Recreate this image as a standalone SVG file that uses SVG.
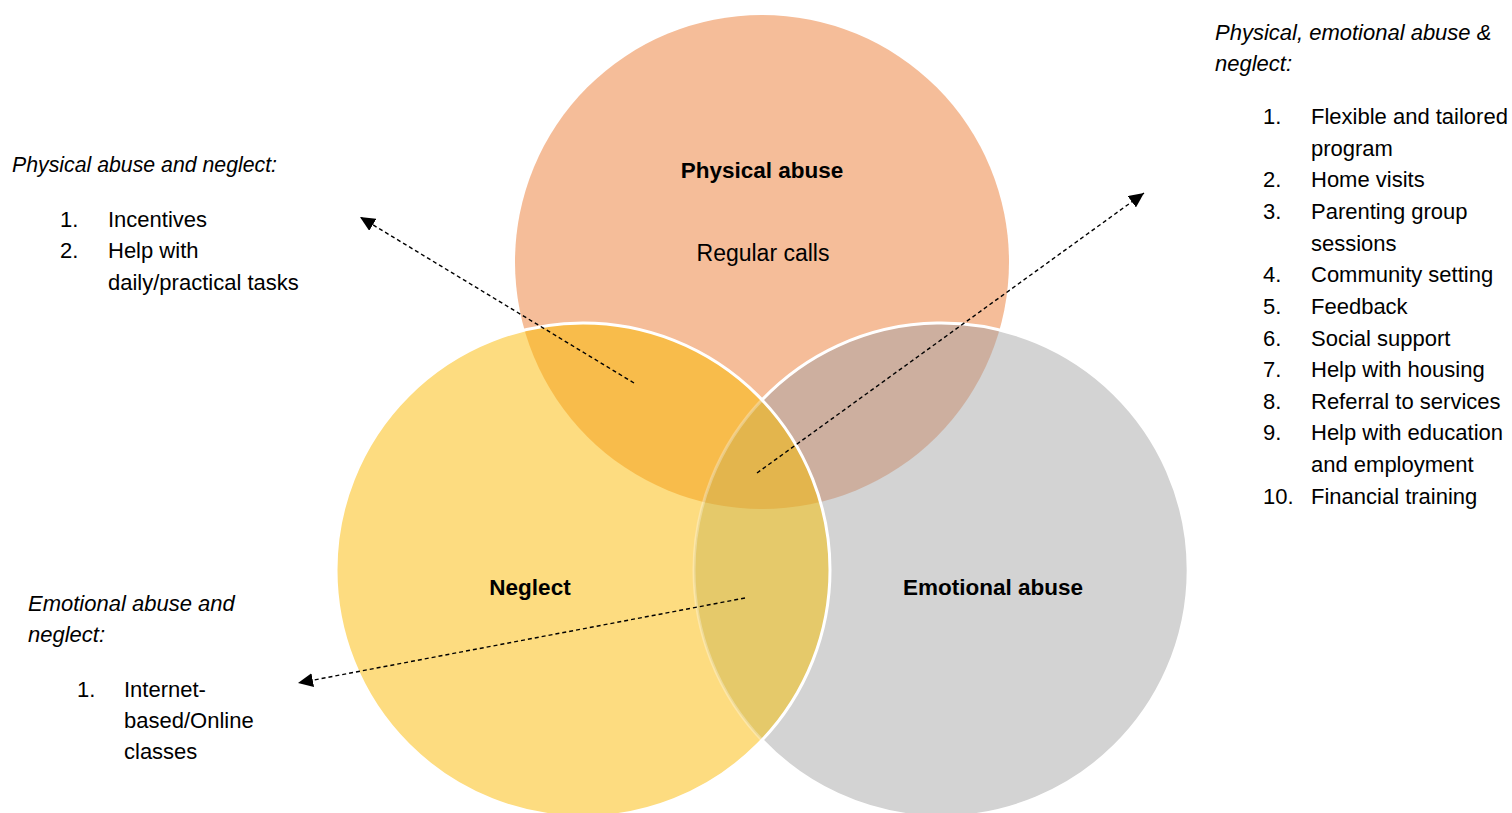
<svg xmlns="http://www.w3.org/2000/svg" width="1512" height="813" viewBox="0 0 1512 813">
  <style>
    text { font-family: "Liberation Sans", Arial, sans-serif; font-size: 22px; fill: #000; }
    .head { font-style: italic; }
    .title { font-weight: bold; text-anchor: middle; font-size: 22.5px; }
    .mid { text-anchor: middle; font-size: 23px; }
    .link { fill: none; stroke: #000; stroke-width: 1.4; stroke-dasharray: 4 3; marker-end: url(#arrow); }
  </style>
  <defs>
    <clipPath id="clipP"><circle cx="762" cy="262" r="247"/></clipPath>
    <clipPath id="clipN"><circle cx="583" cy="570" r="247"/></clipPath>
    <clipPath id="clipE"><circle cx="941" cy="570" r="247"/></clipPath>
    <marker id="arrow" markerUnits="userSpaceOnUse" markerWidth="16" markerHeight="14" refX="15" refY="7" orient="auto">
      <path d="M0,0 L15,7 L0,14 Z" fill="#000"/>
    </marker>
  </defs>

  <rect width="1512" height="813" fill="#fff"/>

  <!-- Venn circles -->
  <g id="physical-abuse">
    <circle cx="762" cy="262" r="247" fill="#F5BD99"/>
  </g>
  <g id="emotional-abuse">
    <circle cx="941" cy="570" r="247" fill="#D3D3D3"/>
  </g>
  <g id="neglect">
    <circle cx="583" cy="570" r="247" fill="#FDDC80"/>
  </g>

  <!-- overlap regions -->
  <g id="overlaps">
    <circle cx="583" cy="570" r="247" fill="#F8BC4B" clip-path="url(#clipP)"/>
    <circle cx="941" cy="570" r="247" fill="#CDAF9F" clip-path="url(#clipP)"/>
    <circle cx="941" cy="570" r="247" fill="#E5C96A" clip-path="url(#clipN)"/>
    <g clip-path="url(#clipN)">
      <circle cx="941" cy="570" r="247" fill="#E3B54D" clip-path="url(#clipP)"/>
    </g>
  </g>

  <!-- circle outlines -->
  <g id="outlines" fill="none" stroke="#fff" stroke-width="3">
    <circle cx="941" cy="570" r="247" stroke-opacity="0.3" clip-path="url(#clipN)"/>
    <path d="M762,400 A247,247 0 1 1 762,740"/>
    <circle cx="583" cy="570" r="247"/>
  </g>

  <!-- circle labels -->
  <text class="title" x="762" y="178">Physical abuse</text>
  <text class="mid" x="763" y="261">Regular calls</text>
  <text class="title" x="530" y="595">Neglect</text>
  <text class="title" x="993" y="595">Emotional abuse</text>

  <!-- connectors -->
  <g id="connectors">
    <line class="link" x1="634" y1="383" x2="360" y2="217"/>
    <line class="link" x1="757" y1="473" x2="1144" y2="193"/>
    <line class="link" x1="745" y1="598" x2="298" y2="683"/>
  </g>

  <!-- physical abuse and neglect list -->
  <g id="list-physical-neglect">
    <text class="head" x="12" y="172" textLength="265" lengthAdjust="spacingAndGlyphs">Physical abuse and neglect:</text>
    <text x="60" y="227">1.</text><text x="108" y="227">Incentives</text>
    <text x="60" y="258">2.</text><text x="108" y="258">Help with</text>
    <text x="108" y="290">daily/practical tasks</text>
  </g>

  <!-- all three list -->
  <g id="list-all">
    <text class="head" x="1215" y="40">Physical, emotional abuse &amp;</text>
    <text class="head" x="1215" y="71">neglect:</text>
    <text x="1263" y="124">1.</text><text x="1311" y="124">Flexible and tailored</text>
    <text x="1311" y="156">program</text>
    <text x="1263" y="187">2.</text><text x="1311" y="187">Home visits</text>
    <text x="1263" y="219">3.</text><text x="1311" y="219">Parenting group</text>
    <text x="1311" y="251">sessions</text>
    <text x="1263" y="282">4.</text><text x="1311" y="282">Community setting</text>
    <text x="1263" y="314">5.</text><text x="1311" y="314">Feedback</text>
    <text x="1263" y="346">6.</text><text x="1311" y="346">Social support</text>
    <text x="1263" y="377">7.</text><text x="1311" y="377">Help with housing</text>
    <text x="1263" y="409">8.</text><text x="1311" y="409">Referral to services</text>
    <text x="1263" y="440">9.</text><text x="1311" y="440">Help with education</text>
    <text x="1311" y="472">and employment</text>
    <text x="1263" y="504">10.</text><text x="1311" y="504">Financial training</text>
  </g>

  <!-- emotional abuse and neglect list -->
  <g id="list-emotional-neglect">
    <text class="head" x="28" y="611">Emotional abuse and</text>
    <text class="head" x="28" y="642">neglect:</text>
    <text x="77" y="697">1.</text><text x="124" y="697">Internet-</text>
    <text x="124" y="728">based/Online</text>
    <text x="124" y="759">classes</text>
  </g>
</svg>
